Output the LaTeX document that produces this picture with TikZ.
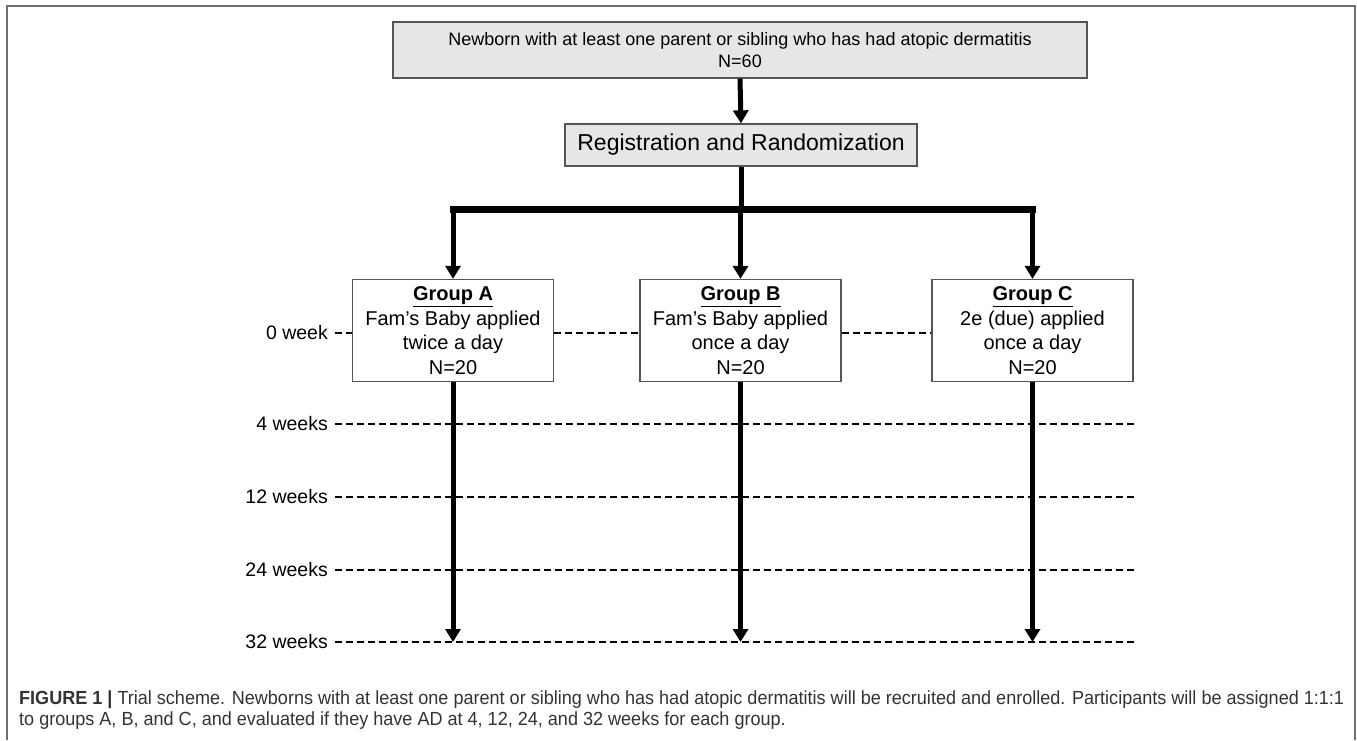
\documentclass[tikz,border=0pt]{standalone}
\usepackage{fontspec}
\setmainfont{Liberation Sans}
\newfontfamily\capfont[FakeStretch=0.95]{Liberation Sans}
\usetikzlibrary{arrows.meta, positioning}
\definecolor{boxgray}{RGB}{230,230,230}
\definecolor{edgegray}{RGB}{85,85,85}
\definecolor{framegray}{RGB}{110,110,110}

\begin{document}
\begin{tikzpicture}[
    x=1pt, y=-1pt,
    box/.style={draw=edgegray, line width=1.3pt, inner sep=0pt, align=center},
    grp/.style={box, fill=white, minimum width=201pt, minimum height=102pt, font=\fontsize{20}{24.5}\selectfont},
    wk/.style={anchor=east, inner sep=0pt, font=\fontsize{19.5}{22}\selectfont},
    arr/.style={line width=5pt, -{Triangle[width=15pt,length=13pt]}},
    bar/.style={line width=7pt, line cap=rect},
    weekline/.style={line width=2.4pt, dash pattern=on 7pt off 4pt}
]
    \useasboundingbox (0,0) rectangle (1357,740);
    \draw[framegray, line width=2pt] (7,740) -- (7,6) -- (1355,6) -- (1355,740);

    \node[box, fill=boxgray, minimum width=694pt, minimum height=56pt, font=\fontsize{18}{22}\selectfont]
        (newborn) at (740,50) {Newborn with at least one parent or sibling who has had atopic dermatitis\\N=60};
    \node[box, fill=boxgray, minimum width=352pt, minimum height=42pt, font=\fontsize{23}{26}\selectfont]
        (regist) at (741,145) {Registration and Randomization};
    \coordinate (split) at (741,209);

    \node[grp] (grpA) at (453,330.5) {\underline{\textbf{Group A}}\\Fam's Baby applied\\twice a day\\N=20};
    \node[grp] (grpB) at (740.5,330.5) {\underline{\textbf{Group B}}\\Fam's Baby applied\\once a day\\N=20};
    \node[grp] (grpC) at (1032.5,330.5) {\underline{\textbf{Group C}}\\2e (due) applied\\once a day\\N=20};

    \foreach \w/\y/\t in {0/333/0 week, 4/424/4 weeks, 12/497/12 weeks, 24/570/24 weeks, 32/642/32 weeks}
        \node[wk] (wk\w) at (328,\y) {\t};

    \draw[weekline] ([xshift=7pt]wk0.east) -- (grpA.west |- wk0.east);
    \draw[weekline] (grpA.east |- wk0.east) -- (grpB.west |- wk0.east);
    \draw[weekline] (grpB.east |- wk0.east) -- (grpC.west |- wk0.east);
    \foreach \w in {4,12,24,32}
        \draw[weekline] ([xshift=7pt]wk\w.east) -- (grpC.east |- wk\w.east);

    \draw[arr] (newborn.south) -- (regist.north);
    \draw[line width=5pt] (regist.south) -- (split);
    \draw[bar] (grpA.north |- split) -- (grpC.north |- split);
    \foreach \g in {A,B,C} {
        \draw[arr] (grp\g.north |- split) -- (grp\g.north);
        \draw[arr] (grp\g.south) -- (grp\g.south |- wk32.east);
    }

    \node[anchor=north west, inner sep=0pt, align=left, text=black!80, font=\capfont\fontsize{19}{21.5}\selectfont]
        (caption) at (19,690.5) {\textbf{FIGURE 1 |} Trial scheme. Newborns with at least one parent or sibling who has had atopic dermatitis will be recruited and enrolled. Participants will be assigned 1:1:1\\to groups A, B, and C, and evaluated if they have AD at 4, 12, 24, and 32 weeks for each group.};
\end{tikzpicture}
\end{document}
